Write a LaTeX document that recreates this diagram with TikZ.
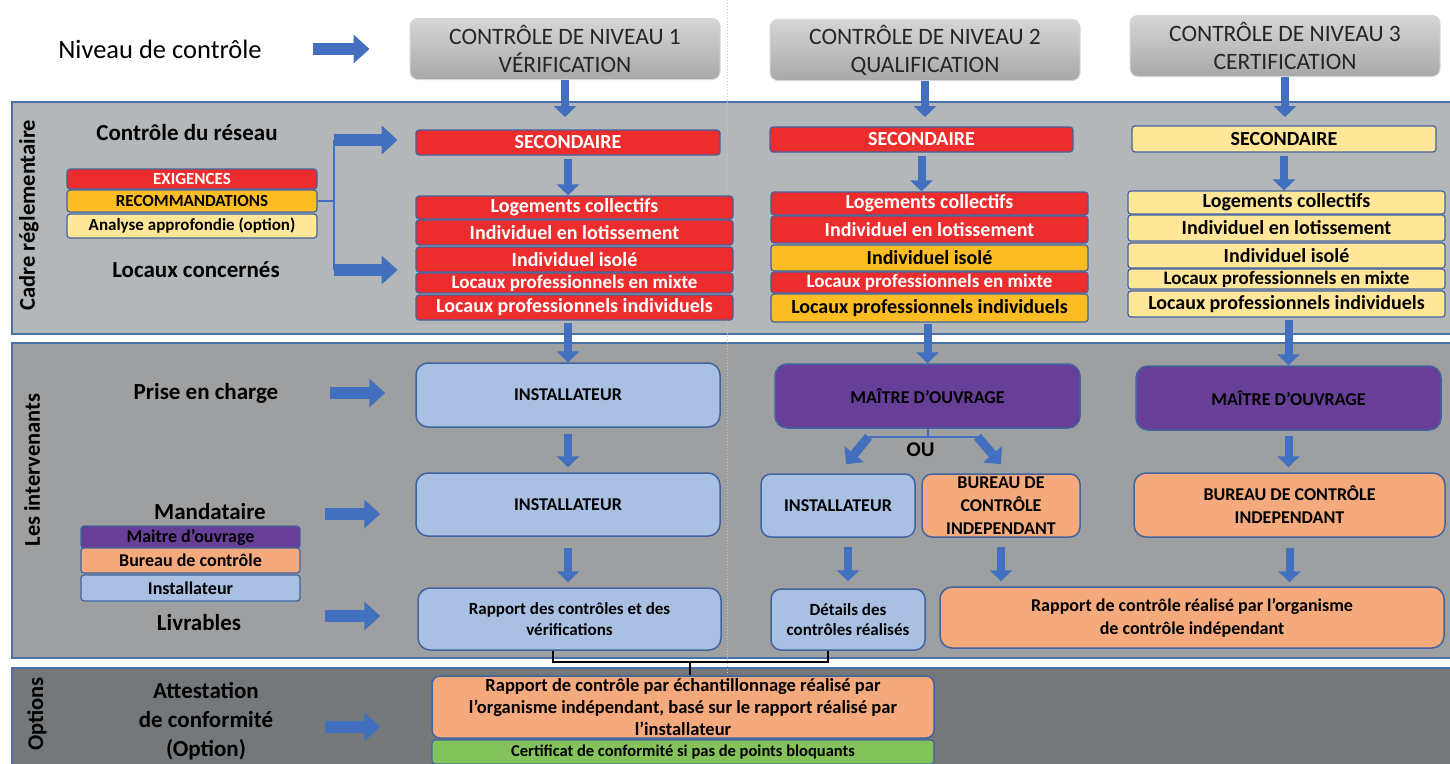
\documentclass[tikz,border=0pt]{standalone}
\usepackage{fontspec}
\setmainfont{Carlito}
\usetikzlibrary{calc,positioning,arrows.meta}

\definecolor{cred}{RGB}{237,45,45}
\definecolor{corange}{RGB}{251,188,36}
\definecolor{cyellow}{RGB}{255,230,153}
\definecolor{cpurple}{RGB}{103,63,153}
\definecolor{csalmon}{RGB}{244,170,124}
\definecolor{cblue}{RGB}{169,192,227}
\definecolor{cgreen}{RGB}{132,195,92}
\definecolor{bandA}{RGB}{180,183,185}
\definecolor{bandB}{RGB}{157,159,161}
\definecolor{bandC}{RGB}{117,120,123}
\definecolor{bandline}{RGB}{74,112,170}
\definecolor{boxline}{RGB}{65,100,158}
\definecolor{arrblue}{RGB}{66,112,190}
\definecolor{hdtop}{RGB}{214,214,214}
\definecolor{hdbot}{RGB}{168,168,168}
\definecolor{hdtext}{RGB}{38,38,38}

\begin{document}
\begin{tikzpicture}[x=1pt,y=-1pt,
        every node/.append style={inner sep=0pt,text=black},
        band/.style={draw=bandline,line width=2pt},
        hdr/.style={rounded corners=8pt,top color=hdtop,bottom color=hdbot,draw=hdtop,
            line width=1pt,minimum width=310pt,minimum height=61pt,align=center,text=hdtext,
            font=\fontsize{23.5}{28}\selectfont},
        lbl/.style={align=center,font=\fontsize{23}{29}\selectfont\bfseries},
        sidelbl/.style={rotate=90,font=\fontsize{22.5}{27}\selectfont\bfseries},
        legbox/.style={draw=boxline,line width=1.2pt,rounded corners=3pt,minimum width=250pt,
            font=\fontsize{17}{20}\selectfont\bfseries},
        rowbox/.style={draw=boxline,line width=1.2pt,rounded corners=3pt,minimum width=317pt,
            font=\fontsize{20}{24}\selectfont\bfseries},
        rbox/.style={rowbox,fill=cred,text=white},
        obox/.style={rowbox,fill=corange},
        ybox/.style={rowbox,fill=cyellow},
        bigbox/.style={draw=boxline,line width=1.5pt,rounded corners=12pt,align=center,
            font=\fontsize{18}{23}\selectfont\bfseries},
        varr/.style={draw=arrblue,line width=8pt,-{Triangle[length=11pt,width=22pt]}},
        harr/.style={draw=arrblue,line width=12pt,-{Triangle[length=16pt,width=28pt]}},
        darr/.style={draw=arrblue,line width=9pt,-{Triangle[length=13pt,width=24pt]}},
        thinb/.style={draw=arrblue,line width=2pt},
        brk/.style={draw=black,line width=2pt}
    ]
    \useasboundingbox (0,0) rectangle (1450,763);
    \clip (0,0) rectangle (1450,763);

    % bands
    \draw[band,fill=bandA] (12,102) rectangle (1460,334);
    \draw[band,fill=bandB] (12,343) rectangle (1460,658);
    \draw[band,fill=bandC] (12,668) rectangle (1460,780);
    \draw[gray!45,dotted,line width=1pt] (727,0) -- (727,763);

    % niveaux
    \node[font=\fontsize{26.5}{30}\selectfont] (nv) at (160,49) {Niveau de contrôle};
    \node[hdr] (h1) at (565,49) {CONTRÔLE DE NIVEAU 1\\VÉRIFICATION};
    \node[hdr] (h2) at (925,50) {CONTRÔLE DE NIVEAU 2\\QUALIFICATION};
    \node[hdr] (h3) at (1285,46) {CONTRÔLE DE NIVEAU 3\\CERTIFICATION};

    % cadre reglementaire
    \node[sidelbl] (cr) at (29,215) {Cadre réglementaire};
    \node[lbl] (c1) at (187,133) {Contrôle du réseau};
    \node[legbox,fill=cred,text=white,minimum height=20pt] (ex) at (192,179) {EXIGENCES};
    \node[legbox,fill=corange,minimum height=22pt] (rec) at (192,201) {RECOMMANDATIONS};
    \node[legbox,fill=cyellow,minimum height=24pt] (ana) at (192,226) {Analyse approfondie (option)};
    \node[lbl] (c2) at (196,270) {Locaux concernés};

    \node[rowbox,fill=cred,text=white,minimum width=304pt,minimum height=25pt] (s1) at (568,142.5) {SECONDAIRE};
    \node[rbox,minimum height=23pt] (r11) at (574.5,207.5) {Logements collectifs};
    \node[rbox,minimum height=25pt] (r12) at (574.5,232.5) {Individuel en lotissement};
    \node[rbox,minimum height=25pt] (r13) at (574.5,259.5) {Individuel isolé};
    \node[rbox,minimum height=20pt,font=\fontsize{19}{22}\selectfont\bfseries] (r14) at (574.5,283) {Locaux professionnels en mixte};
    \node[rbox,minimum height=25pt] (r15) at (574.5,307.5) {Locaux professionnels individuels};

    \node[rowbox,fill=cred,text=white,minimum width=303pt,minimum height=25pt] (s2) at (921.5,139.5) {SECONDAIRE};
    \node[rbox,minimum height=23pt] (r21) at (929.5,203.5) {Logements collectifs};
    \node[rbox,minimum height=27pt] (r22) at (929.5,229.5) {Individuel en lotissement};
    \node[obox,minimum height=26pt] (r23) at (929.5,258) {Individuel isolé};
    \node[rbox,minimum height=21pt,font=\fontsize{19}{22}\selectfont\bfseries] (r24) at (929.5,282.5) {Locaux professionnels en mixte};
    \node[obox,minimum height=28pt] (r25) at (929.5,308) {Locaux professionnels individuels};

    \node[rowbox,fill=cyellow,minimum width=304pt,minimum height=26pt] (s3) at (1284,139) {SECONDAIRE};
    \node[ybox,minimum height=23pt] (r31) at (1286.5,202.5) {Logements collectifs};
    \node[ybox,minimum height=26pt] (r32) at (1286.5,228) {Individuel en lotissement};
    \node[ybox,minimum height=25pt] (r33) at (1286.5,255.5) {Individuel isolé};
    \node[ybox,minimum height=20pt,font=\fontsize{19}{22}\selectfont\bfseries] (r34) at (1286.5,279) {Locaux professionnels en mixte};
    \node[ybox,minimum height=26pt] (r35) at (1286.5,304) {Locaux professionnels individuels};

    % intervenants
    \node[sidelbl] (li) at (32,470) {Les intervenants};
    \node[lbl] (p1) at (206,393) {Prise en charge};
    \node[lbl] (m1) at (210,512) {Mandataire};
    \node[legbox,fill=cpurple,minimum width=219pt,minimum height=22pt,font=\fontsize{18}{21}\selectfont\bfseries] (k1) at (190.5,537) {Maitre d’ouvrage};
    \node[legbox,fill=csalmon,minimum width=219pt,minimum height=25pt,font=\fontsize{18}{21}\selectfont\bfseries] (k2) at (190.5,560.5) {Bureau de contrôle};
    \node[legbox,fill=cblue,minimum width=219pt,minimum height=26pt,font=\fontsize{18}{21}\selectfont\bfseries] (k3) at (190.5,588) {Installateur};
    \node[lbl] (l1) at (199,623) {Livrables};

    \node[bigbox,fill=cblue,minimum width=304pt,minimum height=64pt] (i1) at (568,395) {INSTALLATEUR};
    \node[bigbox,fill=cblue,minimum width=304pt,minimum height=63pt] (i2) at (568,504.5) {INSTALLATEUR};
    \node[bigbox,fill=cblue,minimum width=303pt,minimum height=62pt,font=\fontsize{17}{21}\selectfont\bfseries] (rp1) at (569.5,619) {Rapport des contrôles et des\\vérifications};

    \node[bigbox,fill=cpurple,minimum width=305pt,minimum height=64pt] (mo2) at (927.5,396) {MAÎTRE D’OUVRAGE};
    \node[bigbox,fill=cblue,rounded corners=10pt,minimum width=154pt,minimum height=63pt] (in2) at (838,505.5) {INSTALLATEUR};
    \node[bigbox,fill=csalmon,rounded corners=10pt,minimum width=158pt,minimum height=63pt] (bu2) at (1001,505.5) {BUREAU DE\\CONTRÔLE\\INDEPENDANT};
    \node[bigbox,fill=cblue,rounded corners=10pt,minimum width=154pt,minimum height=61pt,font=\fontsize{17}{20}\selectfont\bfseries] (dt2) at (848,619.5) {Détails des\\contrôles réalisés};
    \node[bigbox,fill=csalmon,minimum width=504pt,minimum height=61pt] (rp2) at (1192,617.5) {Rapport de contrôle réalisé par l’organisme\\de contrôle indépendant};

    \node[bigbox,fill=cpurple,minimum width=305pt,minimum height=64pt] (mo3) at (1288.5,398) {MAÎTRE D’OUVRAGE};
    \node[bigbox,fill=csalmon,minimum width=311pt,minimum height=64pt] (bu3) at (1289.5,505) {BUREAU DE CONTRÔLE\\INDEPENDANT};

    % options
    \node[sidelbl] (op) at (37,714) {Options};
    \node[lbl] (at1) at (206,721) {Attestation\\de conformité\\(Option)};
    \node[bigbox,fill=csalmon,rounded corners=8pt,minimum width=502pt,minimum height=62pt,font=\fontsize{18.5}{22}\selectfont\bfseries] (ech) at (683,707) {Rapport de contrôle par échantillonnage réalisé par\\l’organisme indépendant, basé sur le rapport réalisé par\\l’installateur};
    \node[legbox,fill=cgreen,minimum width=502pt,minimum height=24pt,font=\fontsize{16.5}{19}\selectfont\bfseries] (cert) at (683,752) {Certificat de conformité si pas de points bloquants};

    % fleches horizontales
    \draw[harr] ([xshift=-97pt]nv -| h1.west) -- ++(57,0);
    \coordinate (bk1) at ($(rec.east)+(16,-61)$);
    \coordinate (bk2) at ($(rec.east)+(16,69)$);
    \draw[thinb] (rec.east) -- ++(16,0);
    \draw[thinb] (bk1) -- (bk2);
    \draw[harr] (bk1) -- ++(64,0);
    \draw[harr] (bk2) -- ++(64,0);
    \draw[harr] ([xshift=-85pt]p1 -| i1.west) -- ++(55,0);
    \draw[harr] ([xshift=-90pt,yshift=-2pt]m1 -| i1.west) -- ++(55,0);
    \draw[harr] ([xshift=-90pt,yshift=7pt]l1 -| i1.west) -- ++(55,0);
    \draw[harr] ([xshift=-90pt,yshift=-6pt]at1 -| i1.west) -- ++(55,0);

    % fleches verticales
    \draw[varr] (h1.south) -- ++(0,37);
    \draw[varr] (h2.south) -- ++(0,36);
    \draw[varr] (h3.south) -- ++(0,40);
    \draw[varr] ([yshift=-3pt]s1.south) -- (s1.south |- r11.north);
    \draw[varr] ([yshift=-3pt]s2.south) -- (s2.south |- r21.north);
    \draw[varr] ([yshift=-3pt]s3.south) -- (s3.south |- r31.north);
    \draw[varr] ([yshift=-2pt]r15.south -| i1.north) -- (i1.north);
    \draw[varr] ([yshift=-1pt]r25.south -| mo2.north) -- (mo2.north);
    \draw[varr] ([yshift=-2pt]r35.south -| mo3.north) -- (mo3.north);
    \draw[varr] ([yshift=-6pt]i1.south) -- ([yshift=5pt]i1.south |- i2.north);
    \draw[varr] ([yshift=-11pt]i2.south) -- ([yshift=5pt]i2.south |- rp1.north);
    \draw[varr] ([yshift=-5pt]mo3.south) -- ([yshift=5pt]mo3.south |- bu3.north);
    \draw[varr] ([yshift=-9pt]dt2.north |- in2.south) -- ([yshift=7pt]dt2.north);
    \draw[varr] ([yshift=-9pt]bu2.south) -- ([yshift=5pt]bu2.south |- rp2.north);
    \draw[varr] ([yshift=-10pt]bu3.south) -- ([yshift=4pt]bu3.south |- rp2.north);

    % ou
    \coordinate (fk) at ($(mo2.south)+(0,8)$);
    \draw[thinb] (mo2.south) -- (fk);
    \draw[thinb] ($(fk)+(-59,0)$) -- ($(fk)+(50,0)$);
    \draw[darr] ($(fk)+(-59,0)$) -- ($(in2.north)+(8,-9)$);
    \draw[darr] ($(fk)+(50,0)$) -- ($(bu2.north)+(0,-9)$);
    \node[font=\fontsize{21}{25}\selectfont\bfseries] (ou) at ($(fk)+(-7,13)$) {OU};

    % accolade vers options
    \coordinate (bm) at ($(ech.north)+(7,-13)$);
    \draw[brk] ([xshift=-17pt]rp1.south) |- (bm) -| ([xshift=-20pt]dt2.south);
    \draw[brk] (bm) -- (bm |- ech.north);
\end{tikzpicture}
\end{document}
